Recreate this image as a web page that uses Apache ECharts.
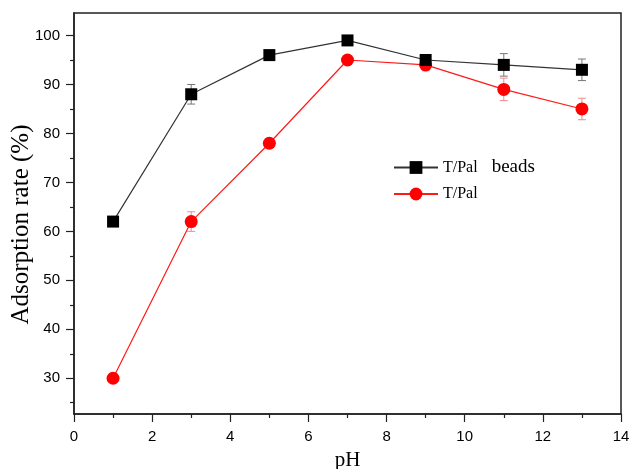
<!DOCTYPE html>
<html>
<head>
<meta charset="utf-8">
<script src="https://cdn.jsdelivr.net/npm/echarts@6/dist/echarts.min.js"></script>
<style>html,body{margin:0;padding:0;background:#fff;}#c{width:630px;height:469px;}</style>
</head>
<body>
<div id="c"></div>
<script>
// pH values
const phValues = [1, 3, 5, 7, 9, 11, 13];
// T/Pal beads (black squares)
const beadsRate = [62, 88, 96, 99, 95, 94, 93];
const beadsErr  = [0.5, 2, 1, 1, 1, 2.3, 2.2];
// T/Pal (red circles)
const palRate = [30, 62, 78, 95, 94, 89, 85];
const palErr  = [0.5, 2, 1, 0.6, 1.2, 2.3, 2.2];
// axis ticks
const yMajorTicks = [30, 40, 50, 60, 70, 80, 90, 100];
const yMinorTicks = [25, 35, 45, 55, 65, 75, 85, 95];

const serif = 'Liberation Serif, Times New Roman, serif';
const sans = 'Liberation Sans, Arial, sans-serif';

function errRender(color) {
  return function (params, api) {
    const x = api.value(0), y = api.value(1), e = api.value(2);
    const hi = api.coord([x, y + e]);
    const lo = api.coord([x, y - e]);
    const hw = 4;
    const style = { stroke: color, lineWidth: 1 };
    return {
      type: 'group',
      children: [
        { type: 'line', shape: { x1: hi[0], y1: hi[1], x2: lo[0], y2: lo[1] }, style },
        { type: 'line', shape: { x1: hi[0] - hw, y1: hi[1], x2: hi[0] + hw, y2: hi[1] }, style },
        { type: 'line', shape: { x1: lo[0] - hw, y1: lo[1], x2: lo[0] + hw, y2: lo[1] }, style }
      ]
    };
  };
}

const chart = echarts.init(document.getElementById('c'), null, { renderer: 'canvas' });
chart.setOption({
  animation: false,
  backgroundColor: '#fff',
  grid: {
    left: 74, right: 9, top: 13, bottom: 55,
    outerBoundsMode: 'none', containLabel: false,
    show: true, borderColor: '#222', borderWidth: 1.5, backgroundColor: 'transparent'
  },
  legend: {
    orient: 'vertical',
    left: 388, top: 153,
    itemWidth: 44, itemHeight: 16, itemGap: 9,
    data: ['T/Pal beads', 'T/Pal'],
    textStyle: {
      fontFamily: serif, fontSize: 16, color: '#000',
      rich: { b: { fontFamily: serif, fontSize: 19, color: '#000', padding: [0, 0, 0, 14] } }
    },
    formatter: function (name) { return name === 'T/Pal beads' ? 'T/Pal{b|beads}' : name; }
  },
  xAxis: {
    type: 'value', min: 0, max: 14, interval: 2,
    name: 'pH', nameLocation: 'middle', nameGap: 36, nameMoveOverlap: false,
    nameTextStyle: { fontFamily: serif, fontSize: 21, color: '#000' },
    axisLine: { show: true, lineStyle: { color: '#222', width: 1.5 } },
    axisTick: { show: true, inside: false, length: 8, lineStyle: { color: '#222', width: 1.2 } },
    minorTick: { show: true, splitNumber: 2, length: 4, lineStyle: { color: '#222', width: 1.2 } },
    axisLabel: { fontFamily: sans, fontSize: 15, color: '#000', margin: 15 },
    splitLine: { show: false }
  },
  yAxis: [{
    type: 'value', min: 22.7, max: 104.6,
    name: 'Adsorption rate (%)', nameLocation: 'middle', nameGap: 40, nameMoveOverlap: false,
    nameTextStyle: { fontFamily: serif, fontSize: 25, color: '#000', padding: [0, 22, 0, 0] },
    axisLine: { show: true, lineStyle: { color: '#222', width: 1.5 } },
    axisTick: { show: true, inside: false, length: 8, customValues: yMajorTicks, lineStyle: { color: '#222', width: 1.2 } },
    axisLabel: { fontFamily: sans, fontSize: 15, color: '#000', margin: 14, customValues: yMajorTicks },
    splitLine: { show: false }
  }, {
    type: 'value', min: 22.7, max: 104.6, position: 'left',
    axisLine: { show: false },
    axisTick: { show: true, inside: false, length: 4, customValues: yMinorTicks, lineStyle: { color: '#222', width: 1.2 } },
    axisLabel: { show: false, customValues: yMinorTicks },
    splitLine: { show: false }
  }],
  series: [
    {
      type: 'custom', name: 'errBeads', renderItem: errRender('#777'), z: 1,
      data: phValues.map((x, i) => [x, beadsRate[i], beadsErr[i]]),
      encode: { x: 0, y: 1 }, silent: true
    },
    {
      type: 'custom', name: 'errPal', renderItem: errRender('#f08a8a'), z: 1,
      data: phValues.map((x, i) => [x, palRate[i], palErr[i]]),
      encode: { x: 0, y: 1 }, silent: true
    },
    {
      type: 'line', name: 'T/Pal beads', z: 3,
      data: phValues.map((x, i) => [x, beadsRate[i]]),
      symbol: 'rect', symbolSize: 12,
      lineStyle: { color: '#333', width: 1.2 },
      itemStyle: { color: '#000', borderWidth: 0 },
      showAllSymbol: true
    },
    {
      type: 'line', name: 'T/Pal', z: 2,
      data: phValues.map((x, i) => [x, palRate[i]]),
      symbol: 'circle', symbolSize: 13,
      lineStyle: { color: '#ff1a1a', width: 1.2 },
      itemStyle: { color: '#ff0000', borderWidth: 0 },
      showAllSymbol: true
    }
  ]
});
</script>
</body>
</html>
